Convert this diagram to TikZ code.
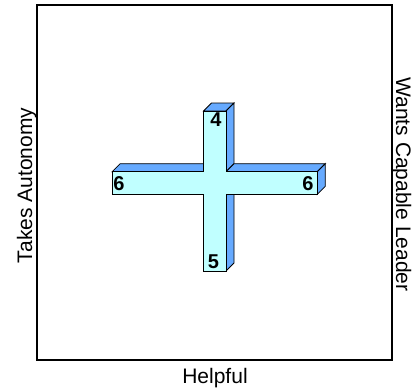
\documentclass[tikz,border=0pt]{standalone}
\usepackage{fontspec}
\setmainfont{Liberation Sans}
\usetikzlibrary{calc}
\definecolor{frontcyan}{RGB}{192,255,255}
\definecolor{sideblue}{RGB}{102,170,255}
\tikzset{
  face/.style = {draw=black, line width=0.8pt, line join=miter},
  digit/.style = {font=\fontsize{20}{23}\selectfont\bfseries, inner sep=0},
  axislabel/.style = {font=\fontsize{21}{25}\selectfont, inner sep=0, anchor=base}
}

\begin{document}
\begin{tikzpicture}[x=1pt, y=-1pt]
      \useasboundingbox (0,0) rectangle (412,389);
      % front face corners
      \coordinate (1) at (203.5,111);
      \coordinate (2) at (226,111);
      \coordinate (3) at (226,171.7);
      \coordinate (4) at (317.3,171.7);
      \coordinate (5) at (317.3,194.3);
      \coordinate (6) at (226,194.3);
      \coordinate (7) at (226,271);
      \coordinate (8) at (203.5,271);
      \coordinate (9) at (203.5,194.3);
      \coordinate (10) at (112.2,194.3);
      \coordinate (11) at (112.2,171.7);
      \coordinate (12) at (203.5,171.7);
      % depth
      \foreach \i in {1,2,3,4,5,6,7,11,12} {
        \coordinate (\i b) at ($(\i)+(8,-8)$);
      }
      % frame
      \draw[black, line width=2pt] (37,5) rectangle (392,360);
      % side faces
      \draw[face, fill=sideblue] (1) -- (2) -- (2b) -- (1b) -- cycle;
      \draw[face, fill=sideblue] (2) -- (2b) -- (3b) -- (3) -- cycle;
      \draw[face, fill=sideblue] (11) -- (12) -- (12b) -- (11b) -- cycle;
      \draw[face, fill=sideblue] (3) -- (4) -- (4b) -- (3b) -- cycle;
      \draw[face, fill=sideblue] (4) -- (4b) -- (5b) -- (5) -- cycle;
      \draw[face, fill=sideblue] (6) -- (6b) -- (7b) -- (7) -- cycle;
      % front face
      \draw[face, fill=frontcyan] (1) -- (2) -- (3) -- (4) -- (5) -- (6) -- (7) -- (8) -- (9) -- (10) -- (11) -- (12) -- cycle;
      \node[digit] (top) at (216,120) {4};
      \node[digit] (bottom) at (213.5,262) {5};
      \node[digit] (left) at (119,183.3) {6};
      \node[digit] (right) at (308,183.3) {6};
      \node[axislabel] (helpful) at (215,383) {Helpful};
      \node[axislabel, rotate=90] (autonomy) at (32,185.5) {Takes Autonomy};
      \node[axislabel, rotate=-90] (leader) at (396,184.5) {Wants Capable Leader};
    \end{tikzpicture}
\end{document}
